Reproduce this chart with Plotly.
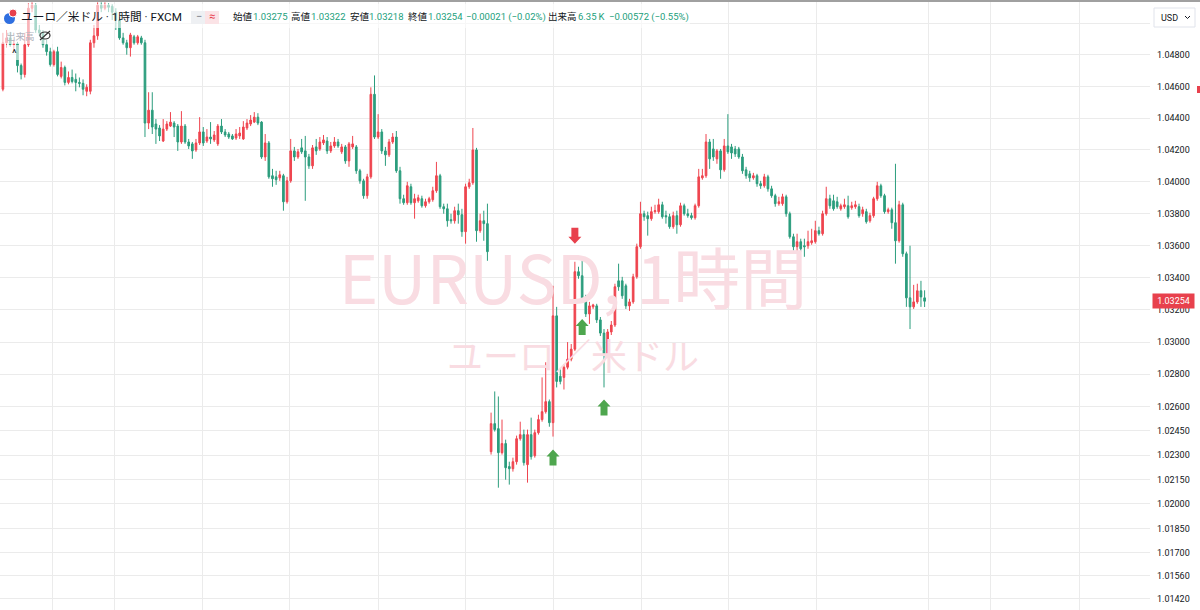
import math
import plotly.graph_objects as go

# ---------------- data (EUR/USD, 1 hour candles) ----------------
opens = [
    1.04582, 1.04875, 1.04906, 1.04863, 1.04869, 1.04731, 1.04675, 1.04863, 1.05094, 1.05113,
    1.04956, 1.04938, 1.04863, 1.04819, 1.04738, 1.04819, 1.04663, 1.04719, 1.04625, 1.04656,
    1.04644, 1.04625, 1.04619, 1.04569, 1.04569, 1.04875, 1.04919, 1.05113, 1.05094, 1.05113,
    1.05106, 1.05069, 1.05019, 1.04906, 1.04875, 1.04844, 1.04913, 1.04875, 1.04906, 1.04875,
    1.04369, 1.04450, 1.04363, 1.04338, 1.04256, 1.04331, 1.04350, 1.04369, 1.04350, 1.04250,
    1.04350, 1.04250, 1.04238, 1.04200, 1.04244, 1.04313, 1.04256, 1.04281, 1.04263, 1.04238,
    1.04350, 1.04313, 1.04300, 1.04288, 1.04275, 1.04288, 1.04269, 1.04338, 1.04363, 1.04375,
    1.04406, 1.04375, 1.04156, 1.04244, 1.04038, 1.04031, 1.04025, 1.04038, 1.03875, 1.04006,
    1.04194, 1.04156, 1.04213, 1.04194, 1.04156, 1.04100, 1.04219, 1.04206, 1.04244, 1.04256,
    1.04194, 1.04225, 1.04250, 1.04188, 1.04219, 1.04131, 1.04219, 1.04219, 1.04069, 1.04006,
    1.03913, 1.04031, 1.04550, 1.04281, 1.04313, 1.04194, 1.04169, 1.04250, 1.04281, 1.04069,
    1.03894, 1.03869, 1.03969, 1.03869, 1.03881, 1.03894, 1.03850, 1.03875, 1.03888, 1.03944,
    1.04038, 1.03844, 1.03831, 1.03763, 1.03756, 1.03819, 1.03794, 1.03688, 1.03969, 1.03994,
    1.04200, 1.03694, 1.03756, 1.03738,
    1.02322, 1.02495, 1.02464, 1.02316, 1.02372, 1.02230, 1.02217, 1.02260, 1.02402, 1.02427,
    1.02242, 1.02427, 1.02297, 1.02439, 1.02520, 1.02569, 1.02631, 1.02501, 1.03163, 1.02788,
    1.02781, 1.02844, 1.02894, 1.02956, 1.03438, 1.03413, 1.03275, 1.03175, 1.03219, 1.03225,
    1.03138, 1.03056, 1.02925, 1.03063, 1.03106, 1.03381, 1.03381, 1.03350, 1.03225, 1.03250,
    1.03406, 1.03594, 1.03800, 1.03788, 1.03769, 1.03813, 1.03813, 1.03856, 1.03788, 1.03781,
    1.03719, 1.03788, 1.03731, 1.03850, 1.03800, 1.03788, 1.03775, 1.03850, 1.04025, 1.04038,
    1.04250, 1.04206, 1.04144, 1.04194, 1.04075, 1.04225, 1.04219, 1.04206, 1.04206, 1.04156,
    1.04075, 1.04050, 1.04025, 1.04038, 1.03988, 1.03975, 1.04031, 1.03956, 1.03913, 1.03863,
    1.03863, 1.03906, 1.03800, 1.03656, 1.03594, 1.03625, 1.03600, 1.03600, 1.03619, 1.03625,
    1.03694, 1.03675, 1.03800, 1.03894, 1.03881, 1.03875, 1.03831, 1.03844, 1.03850, 1.03838,
    1.03844, 1.03844, 1.03800, 1.03813, 1.03756, 1.03788, 1.03894, 1.03975, 1.03913, 1.03813,
    1.03825, 1.03744, 1.03631, 1.03856, 1.03550, 1.03275, 1.03219, 1.03250, 1.03319, 1.03275,
]
highs = [
    1.04938, 1.04956, 1.04944, 1.04894, 1.04881, 1.04744, 1.04938, 1.05125, 1.05131, 1.05125,
    1.04988, 1.04956, 1.04894, 1.04844, 1.04831, 1.04850, 1.04756, 1.04731, 1.04694, 1.04706,
    1.04681, 1.04656, 1.04644, 1.04613, 1.04894, 1.04988, 1.05131, 1.05131, 1.05131, 1.05125,
    1.05119, 1.05094, 1.05038, 1.04938, 1.04894, 1.04938, 1.04925, 1.04925, 1.04919, 1.04894,
    1.04563, 1.04563, 1.04394, 1.04356, 1.04394, 1.04381, 1.04438, 1.04381, 1.04363, 1.04444,
    1.04363, 1.04269, 1.04250, 1.04269, 1.04406, 1.04344, 1.04331, 1.04375, 1.04319, 1.04363,
    1.04394, 1.04331, 1.04313, 1.04300, 1.04331, 1.04344, 1.04381, 1.04394, 1.04419, 1.04438,
    1.04431, 1.04381, 1.04300, 1.04256, 1.04081, 1.04069, 1.04069, 1.04050, 1.04031, 1.04269,
    1.04219, 1.04206, 1.04269, 1.04288, 1.04175, 1.04231, 1.04269, 1.04281, 1.04294, 1.04281,
    1.04250, 1.04281, 1.04269, 1.04238, 1.04231, 1.04250, 1.04288, 1.04231, 1.04081, 1.04019,
    1.04050, 1.04594, 1.04669, 1.04425, 1.04331, 1.04219, 1.04269, 1.04306, 1.04319, 1.04094,
    1.03919, 1.04000, 1.03988, 1.03925, 1.03919, 1.03913, 1.03894, 1.03906, 1.03969, 1.04125,
    1.04050, 1.03863, 1.03863, 1.03800, 1.03844, 1.03863, 1.03831, 1.03988, 1.04019, 1.04338,
    1.04213, 1.03800, 1.03819, 1.03863,
    1.02563, 1.02694, 1.02663, 1.02520, 1.02396, 1.02260, 1.02285, 1.02421, 1.02507, 1.02458,
    1.02458, 1.02532, 1.02458, 1.02550, 1.02781, 1.02875, 1.02644, 1.03350, 1.03219, 1.02831,
    1.02863, 1.03000, 1.02988, 1.03500, 1.03469, 1.03506, 1.03294, 1.03250, 1.03238, 1.03238,
    1.03156, 1.03081, 1.03081, 1.03131, 1.03363, 1.03488, 1.03406, 1.03363, 1.03269, 1.03425,
    1.03613, 1.03875, 1.03819, 1.03813, 1.03844, 1.03856, 1.03894, 1.03875, 1.03819, 1.03800,
    1.03813, 1.03819, 1.03869, 1.03863, 1.03831, 1.03806, 1.03863, 1.04081, 1.04081, 1.04300,
    1.04269, 1.04269, 1.04206, 1.04206, 1.04269, 1.04425, 1.04238, 1.04225, 1.04219, 1.04175,
    1.04094, 1.04069, 1.04056, 1.04050, 1.04006, 1.04050, 1.04044, 1.03975, 1.03925, 1.03906,
    1.03925, 1.03919, 1.03813, 1.03675, 1.03675, 1.03644, 1.03644, 1.03694, 1.03706, 1.03756,
    1.03719, 1.03819, 1.03969, 1.03919, 1.03919, 1.03906, 1.03863, 1.03894, 1.03913, 1.03875,
    1.03881, 1.03863, 1.03844, 1.03831, 1.03806, 1.03906, 1.04000, 1.03988, 1.03925, 1.03838,
    1.03838, 1.04113, 1.03881, 1.03869, 1.03563, 1.03600, 1.03356, 1.03363, 1.03381, 1.03322,
]
lows = [
    1.04569, 1.04844, 1.04850, 1.04831, 1.04688, 1.04644, 1.04656, 1.04850, 1.05069, 1.04938,
    1.04919, 1.04844, 1.04794, 1.04725, 1.04725, 1.04663, 1.04650, 1.04606, 1.04613, 1.04619,
    1.04569, 1.04594, 1.04544, 1.04538, 1.04550, 1.04844, 1.04894, 1.05069, 1.05081, 1.05069,
    1.05019, 1.04956, 1.04894, 1.04863, 1.04800, 1.04788, 1.04863, 1.04863, 1.04863, 1.04281,
    1.04331, 1.04300, 1.04238, 1.04256, 1.04250, 1.04319, 1.04344, 1.04281, 1.04194, 1.04238,
    1.04238, 1.04206, 1.04144, 1.04188, 1.04231, 1.04225, 1.04244, 1.04238, 1.04250, 1.04225,
    1.04300, 1.04281, 1.04269, 1.04263, 1.04263, 1.04269, 1.04263, 1.04325, 1.04350, 1.04369,
    1.04356, 1.04144, 1.04131, 1.04019, 1.03969, 1.03981, 1.04006, 1.03819, 1.03863, 1.03994,
    1.04131, 1.04144, 1.04175, 1.03881, 1.04081, 1.04081, 1.04169, 1.04194, 1.04231, 1.04175,
    1.04181, 1.04213, 1.04213, 1.04175, 1.04113, 1.04094, 1.04206, 1.04050, 1.03988, 1.03894,
    1.03894, 1.04019, 1.04269, 1.04269, 1.04175, 1.04100, 1.04156, 1.04238, 1.04056, 1.03863,
    1.03856, 1.03856, 1.03856, 1.03769, 1.03869, 1.03838, 1.03838, 1.03863, 1.03875, 1.03931,
    1.03831, 1.03800, 1.03719, 1.03738, 1.03738, 1.03738, 1.03656, 1.03613, 1.03956, 1.03981,
    1.03625, 1.03681, 1.03631, 1.03506,
    1.02304, 1.02446, 1.02100, 1.02304, 1.02149, 1.02119, 1.02199, 1.02242, 1.02390, 1.02236,
    1.02131, 1.02273, 1.02285, 1.02427, 1.02507, 1.02557, 1.02476, 1.02415, 1.02719, 1.02738,
    1.02706, 1.02831, 1.02881, 1.02944, 1.03394, 1.03256, 1.03156, 1.03113, 1.03206, 1.03119,
    1.03038, 1.02719, 1.02906, 1.03044, 1.03094, 1.03319, 1.03269, 1.03206, 1.03194, 1.03238,
    1.03394, 1.03581, 1.03756, 1.03663, 1.03756, 1.03800, 1.03800, 1.03769, 1.03738, 1.03706,
    1.03706, 1.03675, 1.03719, 1.03788, 1.03775, 1.03763, 1.03763, 1.03838, 1.04013, 1.04025,
    1.04081, 1.04131, 1.04113, 1.04019, 1.04063, 1.04175, 1.04144, 1.04156, 1.04144, 1.04050,
    1.04019, 1.04000, 1.04013, 1.03969, 1.03956, 1.03963, 1.03938, 1.03900, 1.03844, 1.03850,
    1.03850, 1.03781, 1.03644, 1.03569, 1.03563, 1.03563, 1.03531, 1.03581, 1.03606, 1.03613,
    1.03663, 1.03663, 1.03788, 1.03831, 1.03819, 1.03831, 1.03819, 1.03831, 1.03769, 1.03825,
    1.03831, 1.03775, 1.03781, 1.03738, 1.03744, 1.03775, 1.03881, 1.03900, 1.03800, 1.03800,
    1.03706, 1.03488, 1.03619, 1.03531, 1.03219, 1.03081, 1.03206, 1.03238, 1.03219, 1.03218,
]
closes = [
    1.04875, 1.04906, 1.04863, 1.04869, 1.04731, 1.04675, 1.04863, 1.05094, 1.05113, 1.04956,
    1.04938, 1.04863, 1.04819, 1.04738, 1.04819, 1.04675, 1.04719, 1.04625, 1.04656, 1.04631,
    1.04625, 1.04619, 1.04582, 1.04594, 1.04875, 1.04919, 1.05113, 1.05094, 1.05113, 1.05100,
    1.05069, 1.05019, 1.04906, 1.04875, 1.04844, 1.04925, 1.04875, 1.04913, 1.04875, 1.04369,
    1.04450, 1.04344, 1.04331, 1.04288, 1.04331, 1.04363, 1.04375, 1.04344, 1.04250, 1.04350,
    1.04250, 1.04225, 1.04194, 1.04244, 1.04313, 1.04244, 1.04281, 1.04269, 1.04294, 1.04350,
    1.04313, 1.04294, 1.04281, 1.04269, 1.04300, 1.04306, 1.04344, 1.04369, 1.04388, 1.04406,
    1.04369, 1.04156, 1.04244, 1.04031, 1.04019, 1.04013, 1.04044, 1.03875, 1.04006, 1.04194,
    1.04156, 1.04188, 1.04188, 1.04156, 1.04100, 1.04213, 1.04194, 1.04250, 1.04263, 1.04194,
    1.04225, 1.04250, 1.04225, 1.04219, 1.04131, 1.04238, 1.04238, 1.04069, 1.04006, 1.03913,
    1.04031, 1.04550, 1.04281, 1.04313, 1.04194, 1.04169, 1.04250, 1.04281, 1.04069, 1.03894,
    1.03869, 1.03975, 1.03869, 1.03894, 1.03900, 1.03850, 1.03875, 1.03894, 1.03944, 1.04038,
    1.03844, 1.03831, 1.03756, 1.03756, 1.03819, 1.03794, 1.03688, 1.03969, 1.03994, 1.04200,
    1.03694, 1.03756, 1.03738, 1.03563,
    1.02495, 1.02458, 1.02316, 1.02372, 1.02223, 1.02217, 1.02260, 1.02402, 1.02427, 1.02254,
    1.02427, 1.02291, 1.02439, 1.02520, 1.02569, 1.02631, 1.02501, 1.03163, 1.02756, 1.02756,
    1.02844, 1.02894, 1.02956, 1.03438, 1.03413, 1.03275, 1.03175, 1.03225, 1.03231, 1.03138,
    1.03056, 1.02925, 1.03063, 1.03106, 1.03344, 1.03344, 1.03288, 1.03225, 1.03250, 1.03406,
    1.03594, 1.03800, 1.03781, 1.03769, 1.03813, 1.03819, 1.03856, 1.03781, 1.03781, 1.03719,
    1.03788, 1.03731, 1.03850, 1.03800, 1.03788, 1.03775, 1.03850, 1.04031, 1.04038, 1.04250,
    1.04144, 1.04156, 1.04194, 1.04075, 1.04225, 1.04188, 1.04181, 1.04175, 1.04156, 1.04069,
    1.04038, 1.04025, 1.04038, 1.03988, 1.03975, 1.04031, 1.03956, 1.03913, 1.03863, 1.03875,
    1.03906, 1.03800, 1.03656, 1.03594, 1.03625, 1.03581, 1.03594, 1.03625, 1.03631, 1.03694,
    1.03675, 1.03800, 1.03894, 1.03850, 1.03831, 1.03844, 1.03850, 1.03856, 1.03781, 1.03850,
    1.03856, 1.03788, 1.03825, 1.03750, 1.03788, 1.03894, 1.03975, 1.03913, 1.03813, 1.03825,
    1.03744, 1.03631, 1.03856, 1.03550, 1.03275, 1.03219, 1.03250, 1.03319, 1.03281, 1.03254,
]
candle_idx = list(range(len(closes)))

# y-axis ticks (price scale)
price_ticks = [1.0142, 1.0156, 1.0170, 1.0185, 1.0200, 1.0215, 1.0230, 1.0245, 1.0260,
               1.0280, 1.0300, 1.0320, 1.0340, 1.0360, 1.0380, 1.0400, 1.0420, 1.0440,
               1.0460, 1.0480, 1.0500]
price_labels = [f"{v:.5f}" for v in price_ticks[:-1]] + [""]
# vertical (day) grid lines, in candle-index units
day_lines = [13.75, 30.5, 54.7, 78.8, 103.0, 127.1, 151.0, 175.2, 199.3, 223.2, 254.2, 271.2, 295.4]

# trade signals (candle index, price at arrow tip)
buy_idx = [151, 159, 165]
buy_tip = [1.02335, 1.03144, 1.02644]
sell_idx = [157]
sell_tip = [1.03613]

# legend values
legend_open, legend_high, legend_low, legend_close = "1.03275", "1.03322", "1.03218", "1.03254"
legend_change = "\u22120.00021 (\u22120.02%)"
legend_volume = "6.35\u2009K"
legend_vol_change = "\u22120.00572 (\u22120.55%)"

# ---------------- styling / geometry ----------------
W, H = 1200, 610
PW = 1150  # plot width in px
X_RANGE = [-0.796, 314.87]
Y_TOP, Y_BOT = 1.05146, 1.01350
Y_RANGE = [math.log10(Y_BOT), math.log10(Y_TOP)]

UP = "#ef454f"      # rising candles are red here
DOWN = "#2b9d7d"    # falling candles are green
GRID = "#ebebeb"
TXT = "#131722"
FONT = "Roboto, 'Noto Sans CJK JP', sans-serif"
JFONT = "'Noto Sans CJK JP', sans-serif"


def fx(px):
    return px / PW


def fy(py):
    return 1 - py / H


def px_to_idx(px):
    return X_RANGE[0] + px / PW * (X_RANGE[1] - X_RANGE[0])


def py_to_price(py):
    return 10 ** (Y_RANGE[1] - py / H * (Y_RANGE[1] - Y_RANGE[0]))


fig = go.Figure()

# watermark (behind candles)
fig.add_trace(go.Scatter(
    x=[px_to_idx(573), px_to_idx(573)], y=[py_to_price(287), py_to_price(361)],
    mode="text", text=["EURUSD, 1時間", "ユーロ／米ドル"],
    textfont=dict(family=JFONT, size=[67, 36], color="#f9dce2"),
    hoverinfo="skip", showlegend=False))

fig.add_trace(go.Candlestick(
    x=candle_idx, open=opens, high=highs, low=lows, close=closes,
    increasing=dict(line=dict(color=UP, width=1), fillcolor=UP),
    decreasing=dict(line=dict(color=DOWN, width=1), fillcolor=DOWN),
    whiskerwidth=0, hoverinfo="skip", showlegend=False))

shapes = []
# signal arrows (pixel sized, anchored on data)
up_path = "M0,0 L6.5,-7 L3.5,-7 L3.5,-16 L-3.5,-16 L-3.5,-7 L-6.5,-7 Z"
down_path = "M0,0 L6.5,7 L3.5,7 L3.5,16 L-3.5,16 L-3.5,7 L-6.5,7 Z"
for i, p in zip(buy_idx, buy_tip):
    shapes.append(dict(type="path", xref="x", yref="y", xsizemode="pixel", ysizemode="pixel",
                       xanchor=i, yanchor=p, path=up_path, fillcolor="#4ea64e",
                       line=dict(width=0), layer="above"))
for i, p in zip(sell_idx, sell_tip):
    shapes.append(dict(type="path", xref="x", yref="y", xsizemode="pixel", ysizemode="pixel",
                       xanchor=i, yanchor=p, path=down_path, fillcolor="#e8414d",
                       line=dict(width=0), layer="above"))


def prect(x0, y0, x1, y1, fill, line=None, layer="above"):
    d = dict(type="rect", xref="paper", yref="paper", x0=fx(x0), x1=fx(x1),
             y0=fy(y1), y1=fy(y0), fillcolor=fill, layer=layer,
             line=dict(width=0) if line is None else dict(color=line, width=1))
    shapes.append(d)


# translucent legend backgrounds
prect(0, 4, 690, 28, "rgba(255,255,255,0.6)")
prect(0, 28, 56, 44, "rgba(255,255,255,0.6)")
prect(6, 45, 22, 60, "rgba(255,255,255,0.6)")
# top window border
prect(0, 0, 1200, 2, "#a0a0a0")
# right-edge red mark
prect(1197, 86, 1200, 93, "#e8414d")
# symbol icon
shapes.append(dict(type="circle", xref="paper", yref="paper", x0=fx(4), x1=fx(15),
                   y0=fy(24), y1=fy(13), fillcolor="#2f6fe0", line=dict(width=0), layer="above"))
shapes.append(dict(type="circle", xref="paper", yref="paper", x0=fx(9), x1=fx(17),
                   y0=fy(17), y1=fy(9), fillcolor="#e8414d", line=dict(color="white", width=1),
                   layer="above"))
# pill
prect(191, 11, 205, 24, "#eef0f3")
prect(205, 11, 219, 24, "#fbe3e6")
# USD button
prect(1154, 8, 1195, 27, "white", line="#e0e3eb")
shapes.append(dict(type="path", xref="paper", yref="paper", layer="above",
                   path=f"M{fx(1185)},{fy(16)} L{fx(1187.5)},{fy(18.5)} L{fx(1190)},{fy(16)}",
                   line=dict(color=TXT, width=1)))
# eye-slash icon
shapes.append(dict(type="circle", xref="paper", yref="paper", x0=fx(40), x1=fx(50),
                   y0=fy(39), y1=fy(32), line=dict(color="#333", width=1.2), layer="above"))
shapes.append(dict(type="line", xref="paper", yref="paper", x0=fx(40), x1=fx(50),
                   y0=fy(40), y1=fy(31), line=dict(color="#333", width=1.2), layer="above"))

annotations = []


def label(px, py, text, color=TXT, size=9.5, family=FONT, anchor="left"):
    annotations.append(dict(xref="paper", yref="paper", x=fx(px), y=fy(py), text=text,
                            showarrow=False, xanchor=anchor, yanchor="middle",
                            font=dict(family=family, size=size, color=color)))


GREEN_TXT = "#22a07c"
label(19, 17, "ユーロ／米ドル · 1時間 · FXCM", size=11.7)
label(194, 17, "\u2212", color="#787b86", size=11)
label(207, 17, "\u2248", color="#e8414d", size=11)
label(231, 17, "始値", size=9.5)
label(251, 17, legend_open, color=GREEN_TXT)
label(289, 17, "高値", size=9.5)
label(309, 17, legend_high, color=GREEN_TXT)
label(348, 17, "安値", size=9.5)
label(367, 17, legend_low, color=GREEN_TXT)
label(406, 17, "終値", size=9.5)
label(426, 17, legend_close, color=GREEN_TXT)
label(464, 17, legend_change, color=GREEN_TXT)
label(546, 17, "出来高", size=9.5)
label(576, 17, legend_volume, color=GREEN_TXT)
label(607, 17, legend_vol_change, color=GREEN_TXT)
label(4, 36, "出来高", color="#b2b5be", size=9.5)
label(14.5, 53, "^", color=TXT, size=11, anchor="center")
label(1159, 18, "USD", color=TXT, size=9)

# current price tag
annotations.append(dict(xref="paper", yref="y", x=fx(1152), y=math.log10(closes[-1]),
                        text=f"{closes[-1]:.5f}", showarrow=False, xanchor="left",
                        yanchor="middle", bgcolor="#e8414d", borderpad=2, width=37,
                        font=dict(family=FONT, size=9, color="white")))

fig.update_layout(
    width=W, height=H, margin=dict(l=0, r=W - PW, t=0, b=0),
    paper_bgcolor="white", plot_bgcolor="white",
    xaxis=dict(range=X_RANGE, tickvals=day_lines, showticklabels=False, ticks="",
               showgrid=True, gridcolor=GRID, gridwidth=1, zeroline=False,
               rangeslider=dict(visible=False), showline=False, fixedrange=True),
    yaxis=dict(type="log", range=Y_RANGE, side="right", tickvals=price_ticks,
               ticktext=price_labels, ticks="", showgrid=True, gridcolor=GRID,
               zeroline=False, showline=False, ticklabelstandoff=6,
               tickfont=dict(family=FONT, size=9, color=TXT), fixedrange=True),
    shapes=shapes, annotations=annotations, showlegend=False, hovermode=False,
    boxgap=0.35,
)

fig.write_html("out.html", config={"displayModeBar": False},
               post_script="document.body.style.margin='0';document.body.style.overflow='hidden';")
